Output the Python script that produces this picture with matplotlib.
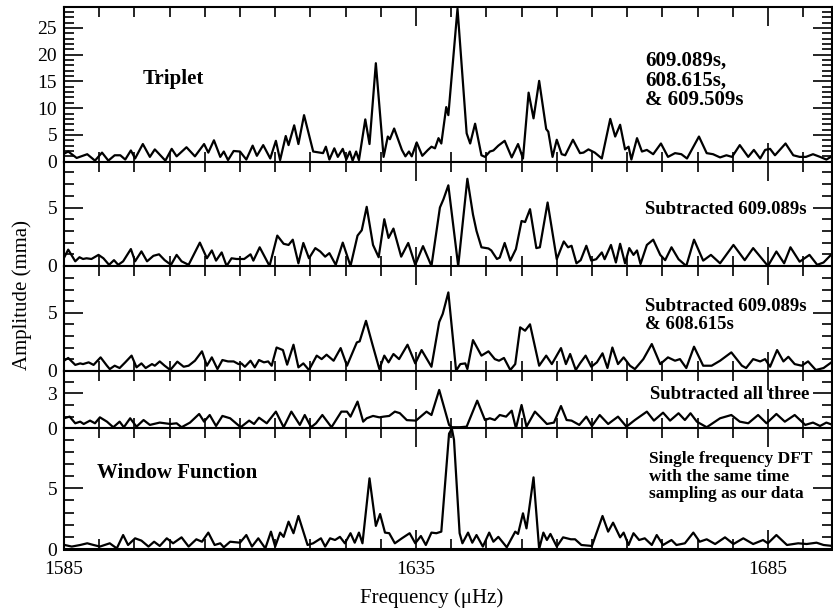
import matplotlib
matplotlib.use("Agg")
import matplotlib.pyplot as plt
from matplotlib.ticker import MultipleLocator, FixedLocator

plt.rcParams["font.family"] = ["Liberation Serif", "DejaVu Serif"]

# Triplet (all three modes)
freq_triplet = [1585.0, 1585.6, 1586.8, 1588.3, 1589.4, 1590.4, 1591.3, 1592.2, 1593.0, 1593.7,
                1594.5, 1595.1, 1596.2, 1597.2, 1597.9, 1599.4, 1600.3, 1601.0, 1602.4, 1603.6,
                1604.9, 1605.5, 1606.3, 1607.2, 1607.7, 1608.3, 1609.1, 1610.0, 1610.9, 1611.8,
                1612.4, 1613.3, 1614.3, 1615.1, 1615.7, 1616.5, 1616.9, 1617.7, 1618.3, 1619.1,
                1620.4, 1621.8, 1622.2, 1622.7, 1623.4, 1623.9, 1624.6, 1625.1, 1625.6, 1626.0,
                1626.5, 1626.9, 1627.8, 1628.4, 1629.3, 1630.4, 1631.0, 1631.3, 1631.9, 1633.0,
                1633.5, 1634.0, 1634.4, 1635.1, 1635.9, 1636.7, 1637.2, 1637.7, 1638.2, 1638.6,
                1639.3, 1639.6, 1640.9, 1642.2, 1642.7, 1643.4, 1644.3, 1644.8, 1645.5, 1646.0,
                1646.7, 1647.6, 1648.6, 1649.5, 1650.2, 1651.0, 1651.7, 1652.5, 1653.5, 1653.8,
                1654.4, 1655.0, 1655.7, 1656.2, 1657.3, 1658.3, 1658.8, 1659.5, 1660.4, 1661.4,
                1662.6, 1663.3, 1664.0, 1664.7, 1665.2, 1665.6, 1666.4, 1667.1, 1667.8, 1668.7,
                1669.8, 1670.8, 1671.8, 1672.7, 1673.5, 1675.2, 1676.3, 1677.2, 1678.2, 1679.1,
                1679.9, 1681.0, 1682.2, 1683.0, 1683.9, 1684.6, 1685.3, 1686.0, 1687.5, 1688.6,
                1689.5, 1690.4, 1691.4, 1692.4, 1693.3, 1694.2]
amp_triplet = [1.5, 1.9, 0.7, 1.4, 0.2, 1.7, 0.2, 1.2, 1.2, 0.4,
               2.1, 0.6, 3.3, 0.9, 2.3, 0.2, 2.4, 1.0, 2.7, 1.0,
               3.3, 1.7, 4.0, 0.9, 1.9, 0.3, 2.0, 1.9, 0.4, 3.0,
               1.1, 3.1, 0.6, 3.9, 0.3, 4.8, 3.1, 6.8, 3.3, 8.7,
               1.9, 1.6, 2.8, 0.4, 2.5, 0.9, 2.4, 0.4, 1.9, 0.2,
               1.9, 0.3, 7.9, 3.3, 18.4, 0.9, 4.7, 4.2, 6.2, 2.2,
               1.0, 1.9, 1.0, 3.6, 1.1, 2.2, 2.8, 2.5, 4.4, 3.4,
               10.2, 8.7, 28.6, 5.3, 3.4, 7.1, 1.2, 0.9, 1.9, 2.1,
               3.0, 3.9, 0.8, 3.3, 0.6, 12.9, 8.1, 15.1, 6.1, 5.6,
               0.9, 4.1, 1.4, 1.2, 4.1, 1.6, 1.7, 2.3, 1.7, 0.6,
               8.0, 4.7, 6.9, 2.3, 2.8, 0.4, 4.4, 1.9, 2.2, 1.4,
               3.4, 0.9, 1.6, 1.4, 0.6, 4.7, 1.6, 1.4, 0.8, 1.2,
               0.9, 3.1, 0.9, 2.2, 0.6, 2.2, 2.4, 1.2, 3.4, 1.2,
               0.9, 0.9, 1.4, 0.9, 0.4, 1.1]

# Subtracted 609.089s
freq_sub1 = [1585.0, 1585.6, 1586.6, 1587.2, 1587.7, 1588.2, 1588.9, 1589.9, 1590.6, 1591.4,
             1592.1, 1592.7, 1593.4, 1594.5, 1595.1, 1596.0, 1596.8, 1597.7, 1598.5, 1599.3,
             1600.2, 1601.0, 1601.7, 1602.7, 1604.3, 1605.3, 1606.0, 1606.6, 1607.4, 1608.1,
             1608.8, 1609.5, 1610.6, 1611.5, 1611.9, 1612.8, 1614.2, 1615.3, 1616.2, 1616.9,
             1617.5, 1618.3, 1619.0, 1619.8, 1620.7, 1621.4, 1622.1, 1622.7, 1623.6, 1624.6,
             1625.7, 1626.7, 1627.3, 1628.0, 1628.9, 1629.7, 1630.5, 1631.1, 1631.8, 1632.9,
             1633.9, 1634.9, 1636.0, 1637.2, 1638.4, 1638.9, 1639.6, 1641.0, 1642.3, 1643.1,
             1643.6, 1644.3, 1645.3, 1645.7, 1646.5, 1646.9, 1647.6, 1648.4, 1649.2, 1650.0,
             1650.5, 1651.2, 1652.1, 1652.6, 1653.7, 1655.0, 1656.0, 1656.6, 1657.1, 1657.8,
             1658.4, 1659.2, 1659.9, 1660.6, 1661.4, 1661.8, 1662.7, 1663.4, 1664.0, 1664.7,
             1665.3, 1665.9, 1666.4, 1666.9, 1667.8, 1668.7, 1669.7, 1670.4, 1671.3, 1672.3,
             1673.4, 1674.5, 1675.8, 1676.9, 1678.2, 1680.1, 1681.7, 1682.9, 1684.1, 1685.0,
             1686.2, 1687.3, 1688.2, 1689.5, 1690.9, 1692.0, 1692.9, 1694.2]
amp_sub1 = [0.7, 1.4, 0.4, 0.75, 0.6, 0.66, 0.6, 0.95, 0.66, 0.1,
            0.5, 0.1, 0.4, 1.45, 0.4, 1.25, 0.4, 0.87, 1.0, 0.5,
            0.1, 0.95, 0.4, 0.1, 2.0, 0.66, 1.33, 0.46, 1.16, 0.0,
            0.66, 0.6, 0.6, 1.0, 0.46, 1.6, 0.0, 2.6, 1.9, 1.8,
            2.25, 0.23, 1.97, 0.66, 1.53, 1.24, 0.8, 1.1, 0.1, 2.0,
            0.0, 2.6, 3.06, 5.06, 1.8, 0.75, 4.0, 2.4, 3.2, 0.8,
            1.97, 0.1, 1.7, 0.0, 5.0, 5.7, 6.9, 0.0, 7.46, 4.4,
            3.0, 1.6, 1.5, 1.33, 0.6, 0.72, 1.97, 0.46, 1.45, 3.85,
            3.76, 4.86, 1.53, 1.6, 5.43, 0.58, 2.1, 1.6, 1.73, 0.23,
            0.5, 1.73, 0.46, 0.58, 1.16, 0.58, 1.8, 0.3, 1.9, 0.23,
            1.53, 0.95, 1.33, 0.17, 1.8, 2.25, 0.95, 0.5, 1.6, 0.58,
            0.0, 2.25, 0.46, 0.95, 0.23, 1.8, 0.5, 1.53, 0.66, 0.0,
            1.24, 0.23, 1.6, 0.37, 0.95, 0.1, 0.3, 1.1]

# Subtracted 609.089s & 608.615s
freq_sub2 = [1585.0, 1585.6, 1586.6, 1587.3, 1587.7, 1588.5, 1589.2, 1590.2, 1591.1, 1591.5,
             1592.2, 1592.9, 1593.7, 1594.6, 1595.3, 1596.0, 1596.6, 1597.5, 1597.9, 1598.6,
             1599.3, 1600.1, 1601.1, 1602.0, 1602.7, 1603.6, 1604.6, 1605.3, 1606.0, 1606.8,
             1607.5, 1608.3, 1609.1, 1609.8, 1610.2, 1610.7, 1611.5, 1612.1, 1612.7, 1613.4,
             1614.0, 1614.5, 1615.2, 1616.1, 1616.7, 1617.6, 1618.3, 1619.0, 1619.8, 1620.9,
             1621.6, 1622.3, 1623.3, 1624.3, 1625.2, 1626.6, 1627.0, 1627.9, 1628.8, 1629.8,
             1630.5, 1631.1, 1631.8, 1632.6, 1633.8, 1634.9, 1635.8, 1637.2, 1638.3, 1638.8,
             1639.6, 1640.7, 1641.3, 1642.0, 1642.3, 1643.1, 1644.3, 1645.3, 1646.2, 1646.8,
             1647.5, 1648.4, 1649.1, 1649.8, 1650.5, 1651.2, 1652.5, 1653.5, 1654.3, 1655.6,
             1656.3, 1656.9, 1657.7, 1658.3, 1659.1, 1659.9, 1660.7, 1661.5, 1662.2, 1662.9,
             1663.7, 1664.5, 1665.4, 1666.1, 1667.3, 1668.5, 1669.7, 1670.8, 1671.8, 1672.5,
             1673.4, 1674.5, 1675.8, 1677.0, 1678.2, 1679.8, 1681.3, 1681.9, 1682.9, 1683.9,
             1684.6, 1685.3, 1686.3, 1687.2, 1687.9, 1688.8, 1689.8, 1690.7, 1691.8, 1692.9,
             1694.2]
amp_sub2 = [0.86, 1.1, 0.5, 0.63, 0.57, 0.72, 0.5, 1.15, 0.43, 0.14,
            0.43, 0.23, 0.72, 1.3, 0.29, 0.63, 0.23, 0.57, 0.43, 0.8,
            0.43, 0.06, 0.78, 0.34, 0.43, 0.86, 1.67, 0.43, 1.15, 0.14,
            0.92, 0.8, 0.8, 0.57, 0.63, 0.34, 0.86, 0.29, 0.92, 0.72,
            0.8, 0.43, 2.0, 1.78, 0.52, 2.24, 0.29, 0.63, 0.06, 1.3,
            1.0, 1.38, 0.86, 1.95, 0.43, 2.44, 2.53, 4.3, 2.3, 0.14,
            1.3, 0.72, 1.44, 1.0, 2.24, 0.63, 1.78, 0.34, 4.2, 4.9,
            6.75, 0.0, 0.57, 0.63, 0.14, 2.64, 1.3, 1.67, 1.0, 0.86,
            1.1, 0.06, 0.57, 3.74, 3.45, 4.0, 0.43, 1.3, 0.57, 1.95,
            0.57, 1.44, 0.06, 0.63, 1.3, 0.34, 0.72, 1.5, 0.23, 2.0,
            0.57, 1.15, 0.43, 0.14, 1.0, 2.3, 0.57, 1.15, 0.86, 1.0,
            0.23, 2.07, 0.43, 0.43, 0.86, 1.58, 0.43, 0.23, 1.0, 0.8,
            1.0, 0.34, 1.78, 0.8, 1.2, 0.57, 0.43, 0.8, 0.06, 0.23,
            0.8]

# Subtracted all three
freq_sub3 = [1585.0, 1585.8, 1586.6, 1587.3, 1587.8, 1588.7, 1589.4, 1590.1, 1591.1, 1592.0,
             1592.9, 1593.5, 1594.4, 1595.3, 1596.3, 1597.2, 1598.6, 1600.1, 1601.0, 1601.7,
             1602.9, 1604.2, 1604.9, 1605.7, 1606.6, 1607.5, 1608.6, 1610.1, 1611.3, 1612.0,
             1612.7, 1613.8, 1615.1, 1616.2, 1617.3, 1618.5, 1619.2, 1620.1, 1620.8, 1621.7,
             1623.0, 1624.4, 1625.2, 1625.7, 1626.7, 1627.5, 1628.0, 1628.9, 1629.8, 1630.4,
             1631.2, 1632.0, 1632.7, 1633.7, 1635.0, 1636.5, 1637.2, 1638.3, 1639.7, 1640.1,
             1641.2, 1642.2, 1643.7, 1644.8, 1645.5, 1646.2, 1646.9, 1647.8, 1648.6, 1649.2,
             1650.0, 1650.7, 1651.9, 1652.6, 1653.6, 1654.6, 1655.6, 1656.4, 1657.1, 1658.2,
             1659.2, 1660.0, 1661.1, 1662.3, 1663.7, 1664.9, 1666.1, 1667.8, 1668.8, 1670.1,
             1671.1, 1672.3, 1673.2, 1674.0, 1674.9, 1676.3, 1678.2, 1679.8, 1681.0, 1682.2,
             1683.6, 1684.8, 1686.2, 1687.4, 1688.8, 1690.3, 1691.4, 1692.4, 1693.3, 1694.2]
amp_sub3 = [0.86, 1.0, 0.43, 0.57, 0.37, 0.66, 0.43, 0.94, 0.57, 0.09,
            0.57, 0.09, 0.86, 0.14, 0.71, 0.29, 0.49, 0.37, 0.43, 0.09,
            0.49, 1.23, 0.57, 1.14, 0.2, 1.06, 0.86, 0.09, 0.66, 0.37,
            0.91, 0.43, 1.43, 0.09, 1.43, 0.29, 1.14, 0.09, 0.43, 1.14,
            0.09, 1.43, 1.43, 1.0, 2.29, 0.57, 0.86, 1.06, 0.94, 1.0,
            1.06, 1.43, 1.3, 0.7, 0.66, 1.43, 1.14, 3.29, 0.29, 0.09,
            0.09, 0.14, 2.37, 0.71, 0.86, 0.71, 1.14, 1.0, 1.51, 0.0,
            2.0, 0.14, 1.43, 1.0, 0.37, 0.49, 1.91, 0.71, 0.66, 0.29,
            1.0, 0.2, 1.14, 0.37, 1.0, 0.14, 0.71, 1.43, 0.66, 1.34,
            0.66, 1.29, 0.71, 1.29, 0.57, 0.09, 0.86, 1.14, 0.57, 0.43,
            1.14, 0.43, 1.23, 0.57, 1.14, 0.29, 0.49, 0.2, 0.49, 0.29]

# Window function (single frequency DFT)
freq_window = [1585.1, 1586.1, 1587.3, 1588.3, 1589.2, 1590.1, 1591.5, 1592.5, 1593.4, 1594.1,
               1595.1, 1596.0, 1597.0, 1597.8, 1598.6, 1599.6, 1600.5, 1601.7, 1602.7, 1603.8,
               1604.6, 1605.5, 1606.4, 1607.2, 1607.7, 1608.6, 1610.0, 1610.9, 1611.7, 1612.6,
               1613.6, 1614.4, 1615.0, 1615.7, 1616.2, 1616.9, 1617.6, 1618.3, 1619.6, 1620.4,
               1621.5, 1622.1, 1622.8, 1623.5, 1624.2, 1624.9, 1625.7, 1626.3, 1626.9, 1627.4,
               1628.4, 1629.3, 1629.9, 1630.6, 1631.2, 1632.0, 1633.0, 1634.1, 1634.9, 1635.7,
               1636.4, 1637.2, 1637.9, 1638.6, 1639.7, 1640.1, 1640.4, 1641.2, 1641.6, 1642.4,
               1643.0, 1643.6, 1644.5, 1645.4, 1646.0, 1646.7, 1647.9, 1649.1, 1649.5, 1650.2,
               1650.7, 1651.7, 1652.5, 1653.1, 1653.6, 1654.1, 1655.0, 1655.9, 1657.0, 1657.6,
               1658.5, 1660.0, 1661.5, 1662.3, 1663.0, 1664.0, 1664.5, 1665.2, 1665.9, 1666.7,
               1667.5, 1668.5, 1669.2, 1670.1, 1671.3, 1672.0, 1673.2, 1674.4, 1675.3, 1676.3,
               1677.5, 1678.9, 1680.1, 1681.5, 1682.9, 1684.3, 1685.0, 1686.2, 1687.7, 1689.3,
               1690.5, 1691.9, 1692.9, 1694.2]
amp_window = [0.33, 0.2, 0.33, 0.47, 0.33, 0.2, 0.47, 0.05, 1.15, 0.33,
              0.88, 0.69, 0.2, 0.6, 0.25, 0.88, 0.47, 0.96, 0.2, 0.8,
              0.6, 1.35, 0.33, 0.47, 0.14, 0.6, 0.52, 1.15, 0.2, 0.88,
              0.05, 1.43, 0.2, 1.35, 1.0, 2.25, 1.3, 2.72, 0.33, 0.47,
              0.88, 0.2, 0.88, 0.74, 1.0, 0.47, 1.3, 0.52, 1.35, 0.47,
              5.82, 1.9, 2.88, 1.35, 1.3, 0.47, 0.88, 1.3, 0.47, 1.07,
              0.33, 1.35, 1.3, 1.43, 9.5, 9.9, 9.0, 1.3, 0.47, 1.35,
              0.52, 1.15, 0.2, 1.35, 0.6, 1.0, 0.14, 1.43, 1.24, 2.94,
              1.7, 5.9, 0.0, 1.35, 0.74, 1.24, 0.2, 0.96, 0.8, 0.8,
              0.33, 0.25, 2.72, 1.43, 2.17, 0.96, 1.35, 0.33, 1.3, 0.74,
              0.88, 0.33, 1.15, 0.33, 0.74, 0.33, 0.47, 1.35, 0.6, 0.8,
              0.41, 0.96, 0.41, 0.88, 0.41, 0.74, 0.47, 1.15, 0.33, 0.47,
              0.41, 0.52, 0.33, 0.25]

fig = plt.figure(figsize=(8.33, 6.14), dpi=100)
W, H = 833.0, 614.0

# panel edges in pixels (top, bottom), y limits, major y ticks
panels = [
    (freq_triplet, amp_triplet, 7.0, 161.7, 28.9, [0, 5, 10, 15, 20, 25]),
    (freq_sub1, amp_sub1, 161.7, 266.0, 8.92, [0, 5]),
    (freq_sub2, amp_sub2, 266.0, 370.7, 9.03, [0, 5]),
    (freq_sub3, amp_sub3, 370.7, 428.3, 4.94, [0, 3]),
    (freq_window, amp_window, 428.3, 549.0, 9.94, [0, 5]),
]

axes = []
for i, (fx, fy, top, bot, ymax, yt) in enumerate(panels):
    ax = fig.add_axes([64 / W, (H - bot) / H, 768 / W, (bot - top) / H])
    ax.plot(fx, fy, color="black", lw=1.6, solid_joinstyle="round")
    ax.set_xlim(1585, 1694.1)
    ax.set_ylim(0, ymax)
    ax.xaxis.set_major_locator(FixedLocator([1585, 1635, 1685]))
    ax.xaxis.set_minor_locator(MultipleLocator(5))
    ax.yaxis.set_major_locator(FixedLocator(yt))
    ax.yaxis.set_minor_locator(MultipleLocator(1))
    ax.tick_params(which="both", direction="in", top=True, right=True,
                   labelsize=14, width=1.2, pad=5)
    ax.tick_params(axis="x", pad=9)
    ax.tick_params(which="major", length=14)
    ax.tick_params(which="minor", length=7)
    for sp in ax.spines.values():
        sp.set_linewidth(1.5)
    ax.spines["bottom"].set_linewidth(2.2)
    if i < len(panels) - 1:
        ax.tick_params(labelbottom=False)
    axes.append(ax)

bold = dict(fontweight="bold", va="center", ha="left")
axes[0].text(1596.2, 15.4, "Triplet", fontsize=15, **bold)
axes[0].text(1667.5, 15.2, "609.089s,\n608.615s,\n& 609.509s", fontsize=15,
             linespacing=0.98, **bold)
axes[1].text(1667.5, 4.8, "Subtracted 609.089s", fontsize=13.5, **bold)
axes[2].text(1667.5, 4.76, "Subtracted 609.089s\n& 608.615s", fontsize=13.5,
             linespacing=1.1, **bold)
axes[3].text(1668.2, 2.94, "Subtracted all three", fontsize=13.5, **bold)
axes[4].text(1589.7, 6.28, "Window Function", fontsize=15, **bold)
axes[4].text(1668.1, 5.96, "Single frequency DFT\nwith the same time\nsampling as our data",
             fontsize=12.5, linespacing=1.12, **bold)

fig.text(22 / W, (H - 295) / H, "Amplitude (mma)", rotation=90, fontsize=15,
         ha="center", va="center")
fig.text(432 / W, (H - 598) / H, "Frequency (\u03bcHz)", fontsize=15,
         ha="center", va="center")

fig.savefig("out.png", dpi=100)
